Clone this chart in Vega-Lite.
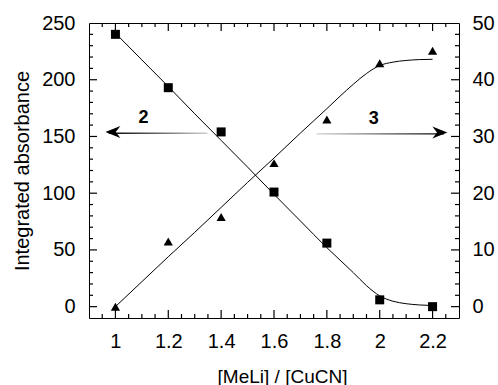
{
  "$schema": "https://vega.github.io/schema/vega-lite/v6.json",
  "width": 370,
  "height": 295,
  "autosize": {"type": "none"},
  "padding": {"left": 89, "top": 23, "right": 39, "bottom": 67},
  "background": "white",
  "config": {
    "view": {"stroke": "black", "strokeWidth": 1},
    "font": "Liberation Sans",
    "axis": {
      "labelFont": "Liberation Sans",
      "titleFont": "Liberation Sans",
      "labelColor": "black",
      "titleColor": "black",
      "labelFontSize": 20,
      "titleFontSize": 20,
      "titleFontWeight": "normal",
      "grid": false,
      "domain": false,
      "ticks": false
    }
  },
  "datasets": {
    "sq": [
      {"ratio": 1.0, "abs": 240},
      {"ratio": 1.2, "abs": 193},
      {"ratio": 1.4, "abs": 154},
      {"ratio": 1.6, "abs": 101},
      {"ratio": 1.8, "abs": 56},
      {"ratio": 2.0, "abs": 6},
      {"ratio": 2.2, "abs": 0}
    ],
    "sqfit": [
      {"ratio": 1.0, "abs": 241},
      {"ratio": 1.1, "abs": 217.5},
      {"ratio": 1.2, "abs": 194},
      {"ratio": 1.3, "abs": 170},
      {"ratio": 1.4, "abs": 146.5},
      {"ratio": 1.5, "abs": 123},
      {"ratio": 1.6, "abs": 99},
      {"ratio": 1.7, "abs": 75.5},
      {"ratio": 1.8, "abs": 52},
      {"ratio": 1.85, "abs": 41},
      {"ratio": 1.9, "abs": 30},
      {"ratio": 1.95, "abs": 18.5},
      {"ratio": 2.0, "abs": 9.5},
      {"ratio": 2.05, "abs": 4.8},
      {"ratio": 2.1, "abs": 2.6},
      {"ratio": 2.15, "abs": 1.5},
      {"ratio": 2.2, "abs": 1}
    ],
    "tri": [
      {"ratio": 1.0, "abs": 0},
      {"ratio": 1.2, "abs": 11.5},
      {"ratio": 1.4, "abs": 15.8},
      {"ratio": 1.6, "abs": 25.3},
      {"ratio": 1.8, "abs": 33},
      {"ratio": 2.0, "abs": 42.9},
      {"ratio": 2.2, "abs": 45.1}
    ],
    "trifit": [
      {"ratio": 1.0, "abs": 0},
      {"ratio": 1.1, "abs": 4.4},
      {"ratio": 1.2, "abs": 8.8},
      {"ratio": 1.3, "abs": 13.1},
      {"ratio": 1.4, "abs": 17.5},
      {"ratio": 1.5, "abs": 21.9},
      {"ratio": 1.6, "abs": 26.2},
      {"ratio": 1.7, "abs": 30.6},
      {"ratio": 1.8, "abs": 34.9},
      {"ratio": 1.85, "abs": 37.1},
      {"ratio": 1.9, "abs": 39.2},
      {"ratio": 1.95, "abs": 41.1},
      {"ratio": 2.0, "abs": 42.5},
      {"ratio": 2.05, "abs": 43.1},
      {"ratio": 2.1, "abs": 43.4},
      {"ratio": 2.15, "abs": 43.55},
      {"ratio": 2.2, "abs": 43.6}
    ],
    "arrows": [
      {"id": "2", "from": 0.975, "to": 1.348, "abs": 154},
      {"id": "3", "from": 1.761, "to": 2.243, "abs": 153.5}
    ],
    "heads": [
      {"id": "2", "ratio": 0.962, "abs": 154, "dir": "left"},
      {"id": "3", "ratio": 2.256, "abs": 153.5, "dir": "right"}
    ],
    "labels": [
      {"text": "2", "ratio": 1.106, "abs": 166},
      {"text": "3", "ratio": 1.977, "abs": 165}
    ],
    "xticks": [
      {"v": 0.95, "kind": "minor"}, {"v": 1.0, "kind": "major"}, {"v": 1.05, "kind": "minor"}, {"v": 1.1, "kind": "minor"},
      {"v": 1.15, "kind": "minor"}, {"v": 1.2, "kind": "major"}, {"v": 1.25, "kind": "minor"}, {"v": 1.3, "kind": "minor"},
      {"v": 1.35, "kind": "minor"}, {"v": 1.4, "kind": "major"}, {"v": 1.45, "kind": "minor"}, {"v": 1.5, "kind": "minor"},
      {"v": 1.55, "kind": "minor"}, {"v": 1.6, "kind": "major"}, {"v": 1.65, "kind": "minor"}, {"v": 1.7, "kind": "minor"},
      {"v": 1.75, "kind": "minor"}, {"v": 1.8, "kind": "major"}, {"v": 1.85, "kind": "minor"}, {"v": 1.9, "kind": "minor"},
      {"v": 1.95, "kind": "minor"}, {"v": 2.0, "kind": "major"}, {"v": 2.05, "kind": "minor"}, {"v": 2.1, "kind": "minor"},
      {"v": 2.15, "kind": "minor"}, {"v": 2.2, "kind": "major"}, {"v": 2.25, "kind": "minor"}
    ],
    "yticks": [
      {"v": 0, "kind": "major"}, {"v": 10, "kind": "minor"}, {"v": 20, "kind": "minor"}, {"v": 30, "kind": "minor"},
      {"v": 40, "kind": "minor"}, {"v": 50, "kind": "major"}, {"v": 60, "kind": "minor"}, {"v": 70, "kind": "minor"},
      {"v": 80, "kind": "minor"}, {"v": 90, "kind": "minor"}, {"v": 100, "kind": "major"}, {"v": 110, "kind": "minor"},
      {"v": 120, "kind": "minor"}, {"v": 130, "kind": "minor"}, {"v": 140, "kind": "minor"}, {"v": 150, "kind": "major"},
      {"v": 160, "kind": "minor"}, {"v": 170, "kind": "minor"}, {"v": 180, "kind": "minor"}, {"v": 190, "kind": "minor"},
      {"v": 200, "kind": "major"}, {"v": 210, "kind": "minor"}, {"v": 220, "kind": "minor"}, {"v": 230, "kind": "minor"},
      {"v": 240, "kind": "minor"}
    ]
  },
  "resolve": {
    "scale": {"x": "independent", "y": "independent"},
    "axis": {"x": "independent", "y": "independent"}
  },
  "layer": [
    {
      "data": {"name": "xticks"},
      "transform": [{"filter": "datum.kind == 'major'"}],
      "mark": {"type": "rule", "color": "black", "strokeWidth": 1.2, "opacity": 1},
      "encoding": {
        "x": {"field": "v", "type": "quantitative", "scale": {"domain": [0.9, 2.3], "nice": false, "zero": false}, "axis": null},
        "y": {"datum": -10, "type": "quantitative", "scale": {"domain": [-10, 250], "nice": false, "zero": false}, "axis": null},
        "y2": {"datum": -2.95}
      }
    },
    {
      "data": {"name": "xticks"},
      "transform": [{"filter": "datum.kind == 'minor'"}],
      "mark": {"type": "rule", "color": "black", "strokeWidth": 1.2, "opacity": 1},
      "encoding": {
        "x": {"field": "v", "type": "quantitative", "scale": {"domain": [0.9, 2.3], "nice": false, "zero": false}, "axis": null},
        "y": {"datum": -10, "type": "quantitative", "scale": {"domain": [-10, 250], "nice": false, "zero": false}, "axis": null},
        "y2": {"datum": -6.47}
      }
    },
    {
      "data": {"name": "xticks"},
      "transform": [{"filter": "datum.kind == 'major'"}],
      "mark": {"type": "rule", "color": "black", "strokeWidth": 1.2, "opacity": 1},
      "encoding": {
        "x": {"field": "v", "type": "quantitative", "scale": {"domain": [0.9, 2.3], "nice": false, "zero": false}, "axis": null},
        "y": {"datum": 250, "type": "quantitative", "scale": {"domain": [-10, 250], "nice": false, "zero": false}, "axis": null},
        "y2": {"datum": 242.95}
      }
    },
    {
      "data": {"name": "xticks"},
      "transform": [{"filter": "datum.kind == 'minor'"}],
      "mark": {"type": "rule", "color": "black", "strokeWidth": 1.2, "opacity": 1},
      "encoding": {
        "x": {"field": "v", "type": "quantitative", "scale": {"domain": [0.9, 2.3], "nice": false, "zero": false}, "axis": null},
        "y": {"datum": 250, "type": "quantitative", "scale": {"domain": [-10, 250], "nice": false, "zero": false}, "axis": null},
        "y2": {"datum": 246.47}
      }
    },
    {
      "data": {"name": "yticks"},
      "transform": [{"filter": "datum.kind == 'major'"}],
      "mark": {"type": "rule", "color": "black", "strokeWidth": 1.2, "opacity": 1},
      "encoding": {
        "y": {"field": "v", "type": "quantitative", "scale": {"domain": [-10, 250], "nice": false, "zero": false}, "axis": null},
        "x": {"datum": 0.9, "type": "quantitative", "scale": {"domain": [0.9, 2.3], "nice": false, "zero": false}, "axis": null},
        "x2": {"datum": 0.9303}
      }
    },
    {
      "data": {"name": "yticks"},
      "transform": [{"filter": "datum.kind == 'minor'"}],
      "mark": {"type": "rule", "color": "black", "strokeWidth": 1.2, "opacity": 1},
      "encoding": {
        "y": {"field": "v", "type": "quantitative", "scale": {"domain": [-10, 250], "nice": false, "zero": false}, "axis": null},
        "x": {"datum": 0.9, "type": "quantitative", "scale": {"domain": [0.9, 2.3], "nice": false, "zero": false}, "axis": null},
        "x2": {"datum": 0.9151}
      }
    },
    {
      "data": {"name": "yticks"},
      "transform": [{"filter": "datum.kind == 'major'"}],
      "mark": {"type": "rule", "color": "black", "strokeWidth": 1.2, "opacity": 1},
      "encoding": {
        "y": {"field": "v", "type": "quantitative", "scale": {"domain": [-10, 250], "nice": false, "zero": false}, "axis": null},
        "x": {"datum": 2.3, "type": "quantitative", "scale": {"domain": [0.9, 2.3], "nice": false, "zero": false}, "axis": null},
        "x2": {"datum": 2.2697}
      }
    },
    {
      "data": {"name": "yticks"},
      "transform": [{"filter": "datum.kind == 'minor'"}],
      "mark": {"type": "rule", "color": "black", "strokeWidth": 1.2, "opacity": 1},
      "encoding": {
        "y": {"field": "v", "type": "quantitative", "scale": {"domain": [-10, 250], "nice": false, "zero": false}, "axis": null},
        "x": {"datum": 2.3, "type": "quantitative", "scale": {"domain": [0.9, 2.3], "nice": false, "zero": false}, "axis": null},
        "x2": {"datum": 2.2849}
      }
    },
    {
      "data": {"name": "sq"},
      "mark": {"type": "point", "shape": "square", "filled": true, "color": "black", "size": 81, "opacity": 1},
      "encoding": {
        "x": {"field": "ratio", "type": "quantitative",
          "scale": {"domain": [0.9, 2.3], "nice": false, "zero": false},
          "axis": {"orient": "bottom", "values": [1, 1.2, 1.4, 1.6, 1.8, 2, 2.2], "format": "~g", "labelPadding": 13,
            "title": "[MeLi] / [CuCN]", "titleFontSize": 19, "titleX": 193, "titleY": 64, "titleBaseline": "alphabetic"}},
        "y": {"field": "abs", "type": "quantitative",
          "scale": {"domain": [-10, 250], "nice": false, "zero": false},
          "axis": {"orient": "left", "values": [0, 50, 100, 150, 200, 250], "format": "d", "labelPadding": 14,
            "title": "Integrated absorbance", "titleX": -61, "titleBaseline": "alphabetic"}}
      }
    },
    {
      "data": {"name": "sqfit"},
      "mark": {"type": "line", "color": "black", "strokeWidth": 1, "interpolate": "monotone"},
      "encoding": {
        "x": {"field": "ratio", "type": "quantitative",
          "scale": {"domain": [0.9, 2.3], "nice": false, "zero": false}, "axis": null},
        "y": {"field": "abs", "type": "quantitative",
          "scale": {"domain": [-10, 250], "nice": false, "zero": false}, "axis": null}
      }
    },
    {
      "data": {"name": "tri"},
      "mark": {"type": "point", "shape": "triangle-up", "filled": true, "color": "black", "size": 85, "opacity": 1},
      "encoding": {
        "x": {"field": "ratio", "type": "quantitative",
          "scale": {"domain": [0.9, 2.3], "nice": false, "zero": false}, "axis": null},
        "y": {"field": "abs", "type": "quantitative",
          "scale": {"domain": [-2, 50], "nice": false, "zero": false},
          "axis": {"orient": "right", "values": [0, 10, 20, 30, 40, 50], "format": "d", "labelPadding": 13, "title": null}}
      }
    },
    {
      "data": {"name": "trifit"},
      "mark": {"type": "line", "color": "black", "strokeWidth": 1, "interpolate": "monotone"},
      "encoding": {
        "x": {"field": "ratio", "type": "quantitative",
          "scale": {"domain": [0.9, 2.3], "nice": false, "zero": false}, "axis": null},
        "y": {"field": "abs", "type": "quantitative",
          "scale": {"domain": [-2, 50], "nice": false, "zero": false}, "axis": null}
      }
    },
    {
      "data": {"name": "arrows"},
      "transform": [{"filter": "datum.id == '2'"}],
      "mark": {"type": "bar", "height": 1.3,
        "fill": {"gradient": "linear", "x1": 0, "y1": 0, "x2": 1, "y2": 0,
          "stops": [{"offset": 0, "color": "#000000"}, {"offset": 1, "color": "#d0d0d0"}]}},
      "encoding": {
        "x": {"field": "from", "type": "quantitative",
          "scale": {"domain": [0.9, 2.3], "nice": false, "zero": false}, "axis": null},
        "x2": {"field": "to"},
        "y": {"field": "abs", "type": "quantitative",
          "scale": {"domain": [-10, 250], "nice": false, "zero": false}, "axis": null}
      }
    },
    {
      "data": {"name": "arrows"},
      "transform": [{"filter": "datum.id == '3'"}],
      "mark": {"type": "bar", "height": 1.3,
        "fill": {"gradient": "linear", "x1": 0, "y1": 0, "x2": 1, "y2": 0,
          "stops": [{"offset": 0, "color": "#d0d0d0"}, {"offset": 1, "color": "#000000"}]}},
      "encoding": {
        "x": {"field": "from", "type": "quantitative",
          "scale": {"domain": [0.9, 2.3], "nice": false, "zero": false}, "axis": null},
        "x2": {"field": "to"},
        "y": {"field": "abs", "type": "quantitative",
          "scale": {"domain": [-10, 250], "nice": false, "zero": false}, "axis": null}
      }
    },
    {
      "data": {"name": "heads"},
      "mark": {"type": "point", "filled": true, "color": "black", "opacity": 1, "size": 64, "strokeWidth": 0},
      "encoding": {
        "x": {"field": "ratio", "type": "quantitative",
          "scale": {"domain": [0.9, 2.3], "nice": false, "zero": false}, "axis": null},
        "y": {"field": "abs", "type": "quantitative",
          "scale": {"domain": [-10, 250], "nice": false, "zero": false}, "axis": null},
        "shape": {"field": "dir", "type": "nominal", "legend": null,
          "scale": {"domain": ["left", "right"],
            "range": ["M0,0L3.75,-1.5L2.6,0L3.75,1.5Z", "M0,0L-3.75,-1.5L-2.6,0L-3.75,1.5Z"]}}
      }
    },
    {
      "data": {"name": "labels"},
      "mark": {"type": "text", "font": "Liberation Sans", "fontSize": 18, "fontWeight": "bold", "color": "black", "align": "center", "baseline": "middle"},
      "encoding": {
        "x": {"field": "ratio", "type": "quantitative",
          "scale": {"domain": [0.9, 2.3], "nice": false, "zero": false}, "axis": null},
        "y": {"field": "abs", "type": "quantitative",
          "scale": {"domain": [-10, 250], "nice": false, "zero": false}, "axis": null},
        "text": {"field": "text"}
      }
    }
  ]
}
